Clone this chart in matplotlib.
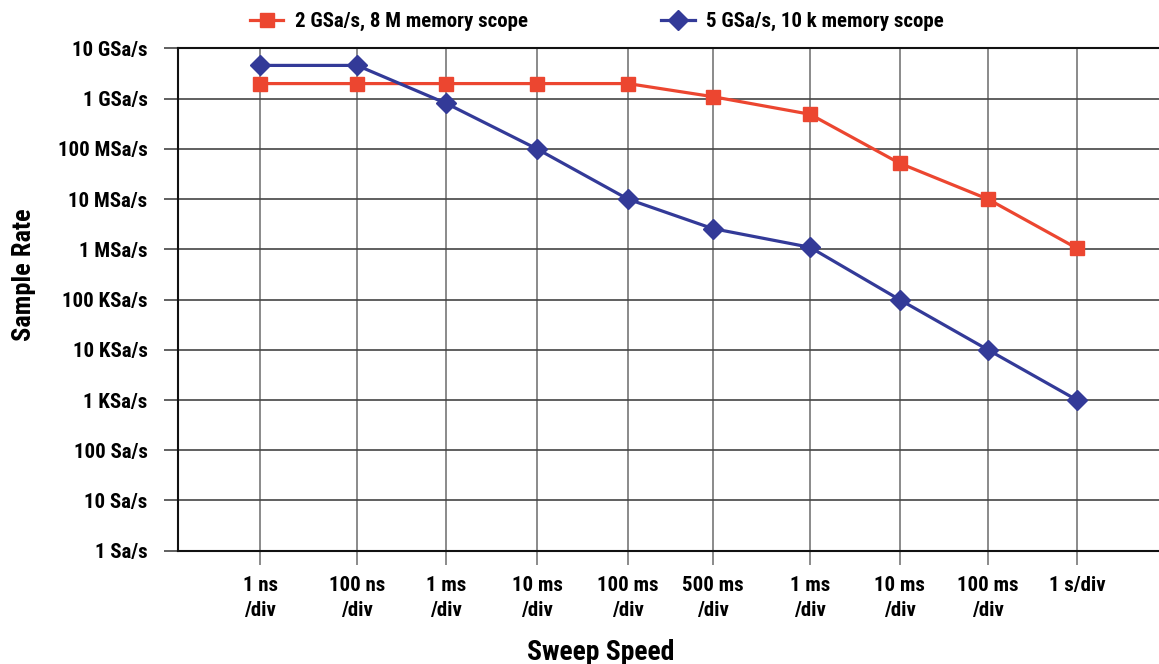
import matplotlib.pyplot as plt
import numpy as np

plt.rcParams['font.family'] = ['Roboto Condensed', 'Liberation Sans Narrow', 'Roboto', 'DejaVu Sans']
plt.rcParams['font.weight'] = 'bold'

sweep_labels = ["1 ns\n/div", "100 ns\n/div", "1 ms\n/div", "10 ms\n/div", "100 ms\n/div",
                "500 ms\n/div", "1 ms\n/div", "10 ms\n/div", "100 ms\n/div", "1 s/div"]
# horizontal placement of the categories (uneven in the original)
x_pos = [82, 179, 268, 359, 450, 534.5, 632, 721.5, 810, 899]

scope_8m = [2e9, 2e9, 2e9, 2e9, 2e9, 1.1e9, 4.9e8, 5.2e7, 1e7, 1.05e6]
scope_10k = [4.6e9, 4.6e9, 8.1e8, 1e8, 1e7, 2.6e6, 1.1e6, 1e5, 1e4, 1e3]

rate_ticks = [1, 10, 100, 1e3, 1e4, 1e5, 1e6, 1e7, 1e8, 1e9, 1e10]
rate_labels = ["1 Sa/s", "10 Sa/s", "100 Sa/s", "1 KSa/s", "10 KSa/s", "100 KSa/s",
               "1 MSa/s", "10 MSa/s", "100 MSa/s", "1 GSa/s", "10 GSa/s"]

red = "#EC4630"
blue = "#333A98"

fig = plt.figure(figsize=(11.59, 6.64), dpi=100)
ax = fig.add_axes([0.1536, 0.1706, 0.8464, 0.7564])

ax.plot(x_pos, scope_8m, color=red, lw=2.3, marker="s", ms=9.5,
        label="2 GSa/s, 8 M memory scope", zorder=3)
ax.plot(x_pos, scope_10k, color=blue, lw=2.3, marker="D", ms=10,
        label="5 GSa/s, 10 k memory scope", zorder=4)

ax.set_yscale("log")
ax.set_ylim(1, 1e10)
ax.set_xlim(0, 981)
ax.set_yticks(rate_ticks)
ax.set_yticklabels(rate_labels)
ax.minorticks_off()
ax.set_xticks(x_pos)
ax.set_xticklabels(sweep_labels, linespacing=1.4)
ax.tick_params(axis="y", length=10, width=1.2, color="#444444", labelsize=15, pad=12)
ax.tick_params(axis="x", length=10, width=1.2, color="#777777", labelsize=15, pad=8)
for t in ax.get_xticklabels() + ax.get_yticklabels():
    t.set_fontweight("bold")

ax.grid(axis="y", color="#444444", lw=1.2)
ax.grid(axis="x", color="#777777", lw=1.2)
ax.set_axisbelow(True)

for s in ["left", "bottom", "top"]:
    ax.spines[s].set_linewidth(1.5)
    ax.spines[s].set_color("#111111")
ax.spines["right"].set_visible(False)

fig.text(0.021, 0.586, "Sample Rate", fontsize=19, fontweight="bold", rotation=90,
         ha="center", va="center")
fig.text(0.518, 0.018, "Sweep Speed", fontsize=20, fontweight="bold", ha="center", va="center")

fig.legend(loc="upper center", bbox_to_anchor=(0.515, 1.01), ncol=2, frameon=False,
           handlelength=1.6, columnspacing=6.4, handletextpad=0.55,
           prop={"weight": "bold", "size": 15})

fig.savefig("out.png", dpi=100)
